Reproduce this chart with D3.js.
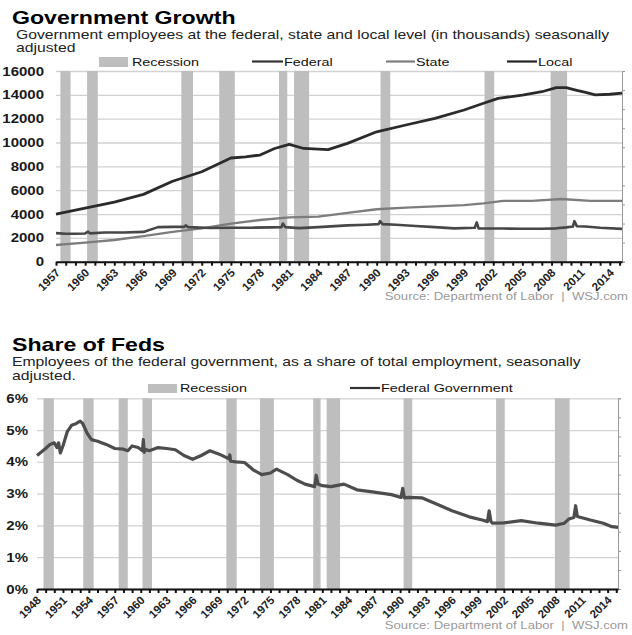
<!DOCTYPE html>
<html>
<head>
<meta charset="utf-8">
<script src="https://cdn.jsdelivr.net/npm/d3@7/dist/d3.min.js"></script>
<style>
  body { margin: 0; background: #fff; }
  svg { display: block; }
  text { font-family: "Liberation Sans", Arial, sans-serif; }
</style>
</head>
<body>
<svg width="632" height="635"></svg>
<script>
// recession spans, fractional years
var recessions = [[1948.75, 1949.95], [1953.35, 1954.55], [1957.45, 1958.5], [1960.2, 1961.3],
  [1969.9, 1971.1], [1973.8, 1975.4], [1979.95, 1980.8], [1981.5, 1983.05], [1990.4, 1991.4],
  [2001.1, 2002.1], [2007.9, 2009.6]];

// Government Growth (thousands)
var localYears = [1957, 1960, 1963, 1966, 1969, 1972, 1975, 1976.5, 1978, 1979.5, 1981, 1982.5, 1984, 1985,
  1987, 1990, 1993, 1996, 1999, 2001, 2002.5, 2005, 2007, 2008.5, 2009.5, 2010.5, 2011.5, 2012.5, 2014, 2015.25];
var localVals = [4000, 4500, 5000, 5650, 6750, 7550, 8700, 8800, 8950, 9500, 9850, 9500, 9450, 9400,
  9930, 10900, 11470, 12030, 12730, 13290, 13700, 13980, 14260, 14600, 14600, 14400, 14200, 14000, 14050, 14150];

var stateYears = [1957, 1960, 1963, 1966, 1969, 1972, 1975, 1978, 1981, 1984, 1987, 1990, 1993, 1996, 1999,
  2001, 2003, 2006, 2009, 2012, 2015.25];
var stateVals = [1400, 1600, 1820, 2150, 2500, 2800, 3200, 3500, 3720, 3780, 4100, 4400, 4530, 4650, 4750,
  4900, 5100, 5100, 5260, 5100, 5100];

var fedYears = [1957, 1958, 1959, 1960, 1960.3, 1960.5, 1962, 1964, 1966, 1967.5, 1969, 1970.2, 1970.35, 1970.6,
  1973, 1975, 1977, 1979, 1980.2, 1980.35, 1980.6, 1982, 1984, 1987, 1989, 1990.2, 1990.35, 1990.6, 1992,
  1994, 1996, 1998, 2000.1, 2000.3, 2000.5, 2001, 2003, 2005, 2007, 2008.5, 2009.5, 2010.2, 2010.35,
  2010.6, 2011.5, 2013, 2015.25];
var fedVals = [2400, 2350, 2350, 2370, 2520, 2380, 2450, 2450, 2500, 2900, 2920, 2920, 3050, 2900,
  2830, 2850, 2850, 2880, 2900, 3200, 2900, 2820, 2900, 3050, 3100, 3150, 3400, 3150, 3100,
  3000, 2900, 2800, 2850, 3300, 2780, 2780, 2780, 2770, 2770, 2800, 2880, 2950, 3400,
  2980, 2950, 2850, 2750];

var topTicks = [0, 2000, 4000, 6000, 8000, 10000, 12000, 14000, 16000];

// Share of Feds (% of total employment)
var shareYears = [1948, 1949, 1949.5, 1950, 1950.3, 1950.5, 1950.7, 1951, 1951.5, 1952, 1952.5, 1953, 1953.3,
  1953.8, 1954.3, 1955, 1956, 1957, 1958, 1958.5, 1959, 1959.7, 1960.2, 1960.3, 1960.4, 1960.5, 1961, 1962,
  1963, 1964, 1965, 1966, 1967, 1968, 1969, 1970.2, 1970.3, 1970.4, 1971, 1972, 1973, 1974, 1975, 1975.7,
  1977, 1978, 1979, 1980.1, 1980.3, 1980.5, 1981, 1982, 1983.5, 1985, 1987, 1989, 1990.1, 1990.3, 1990.5,
  1991, 1992.5, 1994, 1996, 1998, 1999.5, 2000.1, 2000.3, 2000.5, 2000.7, 2002, 2004, 2006, 2008, 2009,
  2009.5, 2010.1, 2010.3, 2010.5, 2012, 2013.5, 2014.5, 2015.2];
var shareVals = [4.2, 4.42, 4.55, 4.6, 4.45, 4.6, 4.28, 4.5, 4.95, 5.15, 5.2, 5.28, 5.2,
  4.9, 4.7, 4.65, 4.55, 4.42, 4.4, 4.35, 4.5, 4.45, 4.35, 4.7, 4.3, 4.4, 4.35, 4.45,
  4.42, 4.38, 4.2, 4.08, 4.2, 4.35, 4.25, 4.1, 4.22, 4.02, 4.0, 3.98, 3.75, 3.6, 3.65, 3.77,
  3.6, 3.43, 3.3, 3.22, 3.58, 3.3, 3.25, 3.22, 3.3, 3.12, 3.05, 2.97, 2.88, 3.17, 2.87,
  2.88, 2.87, 2.7, 2.46, 2.27, 2.17, 2.12, 2.46, 2.12, 2.07, 2.08, 2.15, 2.07, 2.01, 2.07,
  2.2, 2.25, 2.62, 2.28, 2.17, 2.07, 1.96, 1.94];

var shareTicks = [0, 1, 2, 3, 4, 5, 6];

var SX = 1.25; // source picture is stretched sideways
var svg = d3.select("svg");

function label(g, x, y, s, size, opts) {
  opts = opts || {};
  return g.append("text")
    .attr("transform", "translate(" + x + "," + y + ") scale(" + SX + ",1)")
    .attr("font-size", size)
    .attr("font-weight", opts.bold ? "bold" : "normal")
    .attr("text-anchor", opts.anchor || "start")
    .attr("fill", opts.fill || "#111")
    .style("white-space", "pre")
    .text(s);
}

function panel(cfg) {
  var g = svg.append("g");
  var x = d3.scaleLinear().domain(cfg.xDomain).range([cfg.left, cfg.right]);
  var y = d3.scaleLinear().domain(cfg.yDomain).range([cfg.bottom, cfg.top]);

  // gridlines
  g.append("g")
    .attr("transform", "translate(" + cfg.left + ",0)")
    .call(d3.axisLeft(y).tickValues(cfg.yTicks).tickSize(-(cfg.right - cfg.left)).tickFormat(""))
    .call(function (a) {
      a.select(".domain").remove();
      a.selectAll("line").attr("stroke", "#d2d2d2").attr("stroke-width", 1.3);
    });

  // recession bars
  g.selectAll("rect.rec")
    .data(recessions.filter(function (d) { return d[0] >= cfg.xDomain[0]; }))
    .enter().append("rect")
    .attr("x", function (d) { return x(d[0]); })
    .attr("width", function (d) { return x(d[1]) - x(d[0]); })
    .attr("y", cfg.top)
    .attr("height", cfg.bottom - cfg.top)
    .attr("fill", "#bebebe");

  // right border with unlabelled ticks
  var yr = d3.scaleLinear().domain([0, 10]).range([cfg.bottom, cfg.top]);
  g.append("g")
    .attr("transform", "translate(" + cfg.right + ",0)")
    .call(d3.axisRight(yr).ticks(10).tickSize(3).tickFormat(""))
    .call(function (a) {
      a.selectAll("path,line").attr("stroke", "#9a9a9a").attr("stroke-width", 1);
    });

  // series
  var line = d3.line()
    .x(function (d) { return x(d[0]); })
    .y(function (d) { return y(d[1]); });
  cfg.series.forEach(function (s) {
    g.append("path")
      .datum(d3.zip(s.years, s.vals))
      .attr("fill", "none")
      .attr("stroke", s.color)
      .attr("stroke-width", s.width)
      .attr("stroke-linejoin", "round")
      .attr("d", line);
  });

  // bottom axis
  var years = d3.range(Math.ceil(cfg.xDomain[0]), Math.floor(cfg.xDomain[1]) + 1);
  g.append("g")
    .attr("transform", "translate(0," + cfg.bottom + ")")
    .call(d3.axisBottom(x).tickValues(years).tickSize(4).tickSizeOuter(0).tickFormat(""))
    .call(function (a) {
      a.selectAll("path,line").attr("stroke", "#111").attr("stroke-width", 2);
    });
  g.selectAll("text.xl")
    .data(years.filter(function (d) { return (d - cfg.xDomain[0]) % 3 === 0; }))
    .enter().append("text")
    .attr("class", "xl")
    .attr("transform", function (d) {
      return "translate(" + (x(d) + 2) + "," + (cfg.bottom + 9) + ") rotate(-45)";
    })
    .attr("text-anchor", "end")
    .attr("dy", "0.35em")
    .attr("font-size", 11.5)
    .attr("font-weight", "bold")
    .attr("fill", "#222")
    .text(function (d) { return d; });

  // y labels
  cfg.yTicks.forEach(function (t) {
    label(g, cfg.left - cfg.labelGap, y(t) + 4.5, cfg.yFormat(t), 12, { anchor: "end", bold: true, fill: "#1a1a1a" });
  });

  return g;
}

// ---- top chart ----
label(svg, 12, 24, "Government Growth", 18.5, { bold: true, fill: "#000" });
label(svg, 16, 39, "Government employees at the federal, state and local level (in thousands) seasonally", 12.6, { fill: "#222" });
label(svg, 16, 52, "adjusted", 12.6, { fill: "#222" });

panel({
  xDomain: [1957, 2015.25], yDomain: [0, 16000], yTicks: topTicks,
  left: 56, right: 622, top: 71, bottom: 261.7, labelGap: 12,
  yFormat: function (d) { return String(d); },
  series: [
    { years: stateYears, vals: stateVals, color: "#7d7d7d", width: 2.3 },
    { years: fedYears, vals: fedVals, color: "#474747", width: 2.6 },
    { years: localYears, vals: localVals, color: "#2b2b2b", width: 2.8 }
  ]
});

var lg = svg.append("g");
lg.append("rect").attr("x", 99).attr("y", 57).attr("width", 29).attr("height", 10).attr("fill", "#bebebe");
label(lg, 132, 65.5, "Recession", 11.5);
[[252, 283, "Federal", "#333"], [386, 415, "State", "#7d7d7d"], [507, 537, "Local", "#222"]].forEach(function (d) {
  lg.append("line").attr("x1", d[0]).attr("x2", d[1]).attr("y1", 61.5).attr("y2", 61.5)
    .attr("stroke", d[3]).attr("stroke-width", 2.2);
  label(lg, d[1] + 1, 65.5, d[2], 11.5);
});
label(svg, 628, 300, "Source: Department of Labor  |  WSJ.com", 10.5, { anchor: "end", fill: "#999" });

// ---- bottom chart ----
label(svg, 12, 351, "Share of Feds", 18.5, { bold: true, fill: "#000" });
label(svg, 12, 366, "Employees of the federal government, as a share of total employment, seasonally", 12.6, { fill: "#222" });
label(svg, 12, 379.5, "adjusted.", 12.6, { fill: "#222" });

panel({
  xDomain: [1948, 2015.2], yDomain: [0, 6], yTicks: shareTicks,
  left: 37, right: 618, top: 398.3, bottom: 589, labelGap: 9,
  yFormat: function (d) { return d + "%"; },
  series: [
    { years: shareYears, vals: shareVals, color: "#4d4d4d", width: 3.2 }
  ]
});

var lg2 = svg.append("g");
lg2.append("rect").attr("x", 148).attr("y", 384).attr("width", 29).attr("height", 9).attr("fill", "#bebebe");
label(lg2, 180, 392, "Recession", 11.5);
lg2.append("line").attr("x1", 350).attr("x2", 380).attr("y1", 388).attr("y2", 388)
  .attr("stroke", "#333").attr("stroke-width", 2.2);
label(lg2, 381, 392, "Federal Government", 11.5);
label(svg, 628, 629, "Source: Department of Labor  |  WSJ.com", 10.5, { anchor: "end", fill: "#999" });
</script>
</body>
</html>
